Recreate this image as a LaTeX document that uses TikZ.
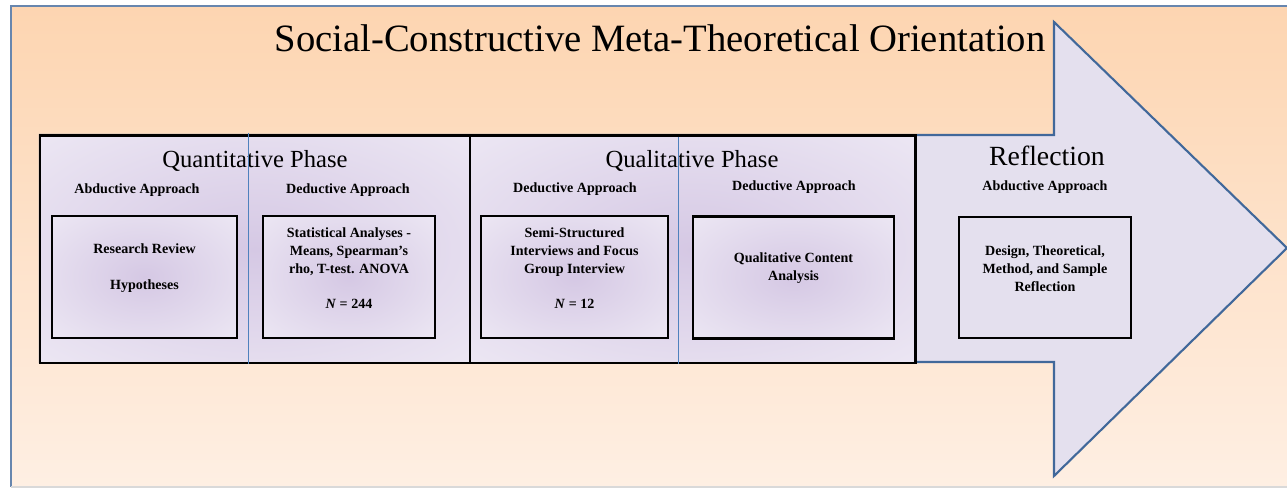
\documentclass[tikz,border=0pt]{standalone}
\usepackage{fontspec}
\setmainfont{Liberation Serif}
\usepackage{xcolor}
\usepackage{tikz}
\usetikzlibrary{positioning, calc, backgrounds}
\definecolor{bgtop}{HTML}{FDD5B1}
\definecolor{bgbottom}{HTML}{FEEFE3}
\definecolor{arrowfill}{HTML}{E4E0EE}
\definecolor{arrowline}{HTML}{41689A}
\definecolor{phasein}{HTML}{D5C8E4}
\definecolor{phaseout}{HTML}{F0ECF6}
\definecolor{splitblue}{HTML}{4F81BD}
\pgfdeclareradialshading{phaseshade}{\pgfpoint{0bp}{0bp}}{color(0bp)=(phasein); color(42bp)=(phaseout); color(50bp)=(phaseout)}

\begin{document}
\begin{tikzpicture}[
  x=0.2mm, y=-0.2mm,
  phase/.style={rectangle, draw=black, line width=1.7pt, shading=phaseshade, minimum height=45.4mm},
  innerbox/.style={rectangle, draw=black, line width=1.6pt, shading=phaseshade, minimum height=24.4mm},
  boxtext/.style={font=\fontsize{8}{10.2}\selectfont\bfseries, align=center},
  approach/.style={font=\fontsize{8}{10}\selectfont\bfseries},
  phasetitle/.style={font=\fontsize{14}{16}\selectfont},
  split/.style={draw=splitblue, line width=0.5pt},
]
\useasboundingbox (0,0) rectangle (1287,489);
% background
\fill[top color=bgtop, bottom color=bgbottom] (11,6) rectangle (1287,487);
\draw[arrowline!80, line width=1pt] (11,487) -- (11,6) -- (1287,6);
\draw[gray!30, line width=0.6pt] (11,487) -- (1287,487);

% big arrow
\draw[fill=arrowfill, draw=arrowline, line width=1.2pt, line join=miter]
  (40,135) -- (1054,135) -- (1054,22) -- (1287,248) -- (1054,476) -- (1054,362) -- (40,362) -- cycle;

\node[font=\fontsize{22}{26}\selectfont] (maintitle) at (660,38) {Social-Constructive Meta-Theoretical Orientation};

% phases
\node[phase, minimum width=86mm] (quantbox) at (255,249.5) {};
\node[phase, minimum width=89mm] (qualbox) at (692.5,249.5) {};

\node[phasetitle] (quanttitle) at (255,161) {Quantitative Phase};
\node[phasetitle] (qualtitle) at (692,161) {Qualitative Phase};
\node[font=\fontsize{15.8}{18}\selectfont] (refltitle) at (1047,156) {Reflection};

\node[approach] (quantabd) at (137,190) {Abductive Approach};
\node[approach] (quantded) at (348,190) {Deductive Approach};
\node[approach] (qualded) at (575,189) {Deductive Approach};
\node[approach] (qualded2) at (794,187) {Deductive Approach};
\node[approach] (reflabd) at (1045,187) {Abductive Approach};

% boxes
\node[innerbox, minimum width=37mm] (reviewbox) at (144.5,277) {};
\node[innerbox, minimum width=34.4mm] (statsbox) at (349,277) {};
\node[innerbox, minimum width=37.4mm] (interviewbox) at (574.5,277) {};
\node[innerbox, minimum width=40.2mm] (contentbox) at (793.5,277.5) {};
\node[rectangle, draw=black, line width=1.6pt, fill=arrowfill, minimum width=34.4mm, minimum height=24.2mm] (reflbox) at (1045,277.5) {};

\node[boxtext] (reviewtext) at ([yshift=1.8mm]reviewbox.center) {Research Review\\[10pt]Hypotheses};
\node[boxtext] (statstext) at ([yshift=1.8mm]statsbox.center) {Statistical Analyses -\\Means, Spearman's\\rho, T-test. ANOVA\\[10pt]\textit{N} = 244};
\node[boxtext] (interviewtext) at ([yshift=1.8mm]interviewbox.center) {Semi-Structured\\Interviews and Focus\\Group Interview\\[10pt]\textit{N} = 12};
\node[boxtext] (contenttext) at ([yshift=1.8mm]contentbox.center) {Qualitative Content\\Analysis};
\node[boxtext] (refltext) at ([yshift=1.8mm]reflbox.center) {Design, Theoretical,\\Method, and Sample\\Reflection};

% thin split lines
\draw[split] (248,133) -- (quantbox.south -| 248,0);
\draw[split] (678,137) -- (qualbox.south -| 678,0);
\end{tikzpicture}
\end{document}
